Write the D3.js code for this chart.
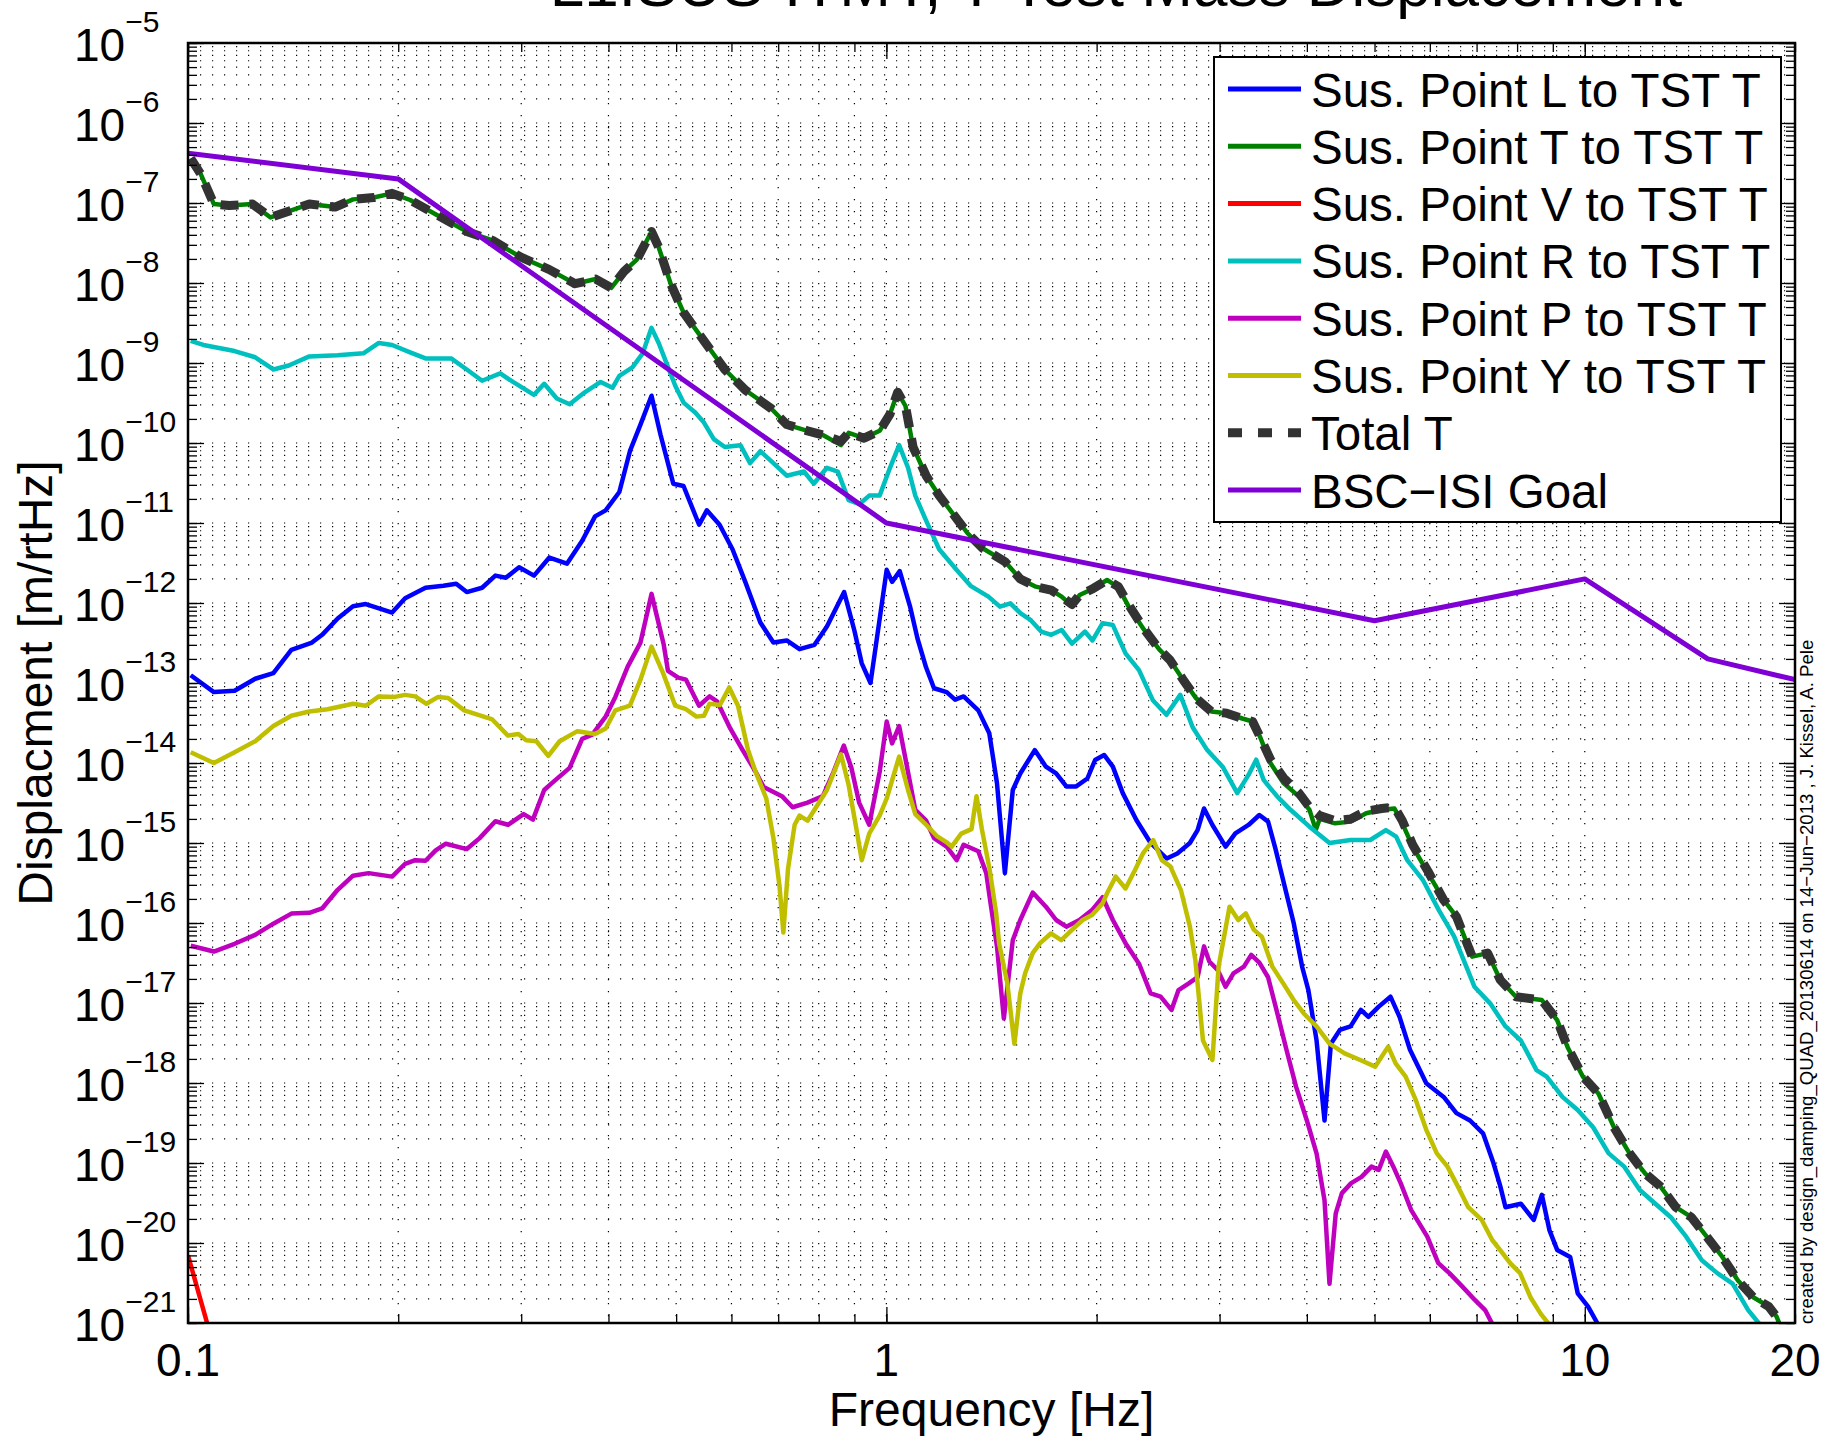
<!DOCTYPE html>
<html>
<head>
<meta charset="utf-8">
<script src="https://cdn.jsdelivr.net/npm/d3@7"></script>
<style>
body { margin: 0; background: #fff; }
text { font-family: "Liberation Sans", Arial, Helvetica, sans-serif; fill: #000; }
</style>
</head>
<body>
<svg id="chart" width="1837" height="1436"></svg>
<script>
// [frequency Hz, displacement m/rtHz]
var susL = [[0.1009,1.25e-13],[0.1089,7.7e-14],[0.1166,8e-14],[0.1248,1.13e-13],[0.1325,1.33e-13],[0.1406,2.6e-13],[0.1505,3.2e-13],[0.1556,4e-13],[0.1638,6.4e-13],[0.1723,9.1e-13],[0.1797,9.7e-13],[0.196,7.6e-13],[0.2046,1.15e-12],[0.2188,1.55e-12],[0.2321,1.64e-12],[0.2421,1.74e-12],[0.2507,1.37e-12],[0.2637,1.55e-12],[0.2755,2.2e-12],[0.2852,2.07e-12],[0.2979,2.8e-12],[0.3129,2.2e-12],[0.3292,3.7e-12],[0.3488,3.1e-12],[0.3668,6e-12],[0.3827,1.21e-11],[0.3963,1.44e-11],[0.4146,2.44e-11],[0.4293,7.9e-11],[0.4445,1.7e-10],[0.461,3.9e-10],[0.475,1.26e-10],[0.4953,3.1e-11],[0.5123,2.9e-11],[0.5393,9.5e-12],[0.5532,1.44e-11],[0.577,9.5e-12],[0.6021,4.7e-12],[0.628,1.84e-12],[0.66,5.7e-13],[0.689,3.2e-13],[0.72,3.4e-13],[0.751,2.65e-13],[0.789,3e-13],[0.822,5.1e-13],[0.87,1.37e-12],[0.9,4.5e-13],[0.922,1.76e-13],[0.949,1e-13],[1.001,2.6e-12],[1.019,1.84e-12],[1.045,2.5e-12],[1.081,9.1e-13],[1.108,3.6e-13],[1.14,1.56e-13],[1.17,8.6e-14],[1.22,7.7e-14],[1.254,6.2e-14],[1.29,6.8e-14],[1.354,4.55e-14],[1.404,2.35e-14],[1.44,5.6e-15],[1.478,4.2e-16],[1.517,4.6e-15],[1.555,7.4e-15],[1.631,1.45e-14],[1.692,9e-15],[1.75,7.4e-15],[1.81,5.1e-15],[1.87,5.1e-15],[1.94,6.4e-15],[1.99,1.09e-14],[2.05,1.26e-14],[2.11,9e-15],[2.18,4.2e-15],[2.28,1.94e-15],[2.39,1e-15],[2.52,6.4e-16],[2.61,7.4e-16],[2.72,1e-15],[2.79,1.45e-15],[2.85,2.7e-15],[2.93,1.68e-15],[3.06,9e-16],[3.16,1.32e-15],[3.3,1.68e-15],[3.42,2.24e-15],[3.52,1.85e-15],[3.61,8.2e-16],[3.71,3.1e-16],[3.83,1e-16],[3.94,2.8e-17],[4.02,1.45e-17],[4.13,3.4e-18],[4.24,3.4e-19],[4.33,3.1e-18],[4.46,4.6e-18],[4.62,5.1e-18],[4.78,8.2e-18],[4.9,6.7e-18],[5.07,9e-18],[5.27,1.2e-17],[5.43,6.7e-18],[5.62,2.6e-18],[5.93,9.9e-19],[6.28,6.7e-19],[6.55,4.2e-19],[6.85,3.4e-19],[7.15,2.35e-19],[7.4,1e-19],[7.57,5.1e-20],[7.7,2.8e-20],[8.1,3.1e-20],[8.45,1.94e-20],[8.68,4e-20],[8.9,1.45e-20],[9.13,8.2e-21],[9.53,6.7e-21],[9.77,2.35e-21],[10.11,1.6e-21],[10.42,1e-21],[10.7,6e-22]];

var susT = [[0.1009,3.6e-7],[0.1043,2.3e-7],[0.1089,9.7e-8],[0.1146,9.3e-8],[0.1237,9.7e-8],[0.1313,6.6e-8],[0.1406,8.1e-8],[0.1492,9.7e-8],[0.1624,8.9e-8],[0.1723,1.11e-7],[0.1845,1.17e-7],[0.196,1.32e-7],[0.208,1.09e-7],[0.2265,7.2e-8],[0.2507,4.4e-8],[0.273,3.4e-8],[0.2997,2.1e-8],[0.3292,1.47e-8],[0.3583,9.8e-9],[0.3836,1.12e-8],[0.4037,8.7e-9],[0.421,1.39e-8],[0.4395,1.98e-8],[0.461,4.4e-8],[0.472,2.8e-8],[0.491,9.8e-9],[0.5123,4.3e-9],[0.548,1.89e-9],[0.587,8.3e-10],[0.628,4.6e-10],[0.684,2.7e-10],[0.72,1.7e-10],[0.771,1.42e-10],[0.811,1.26e-10],[0.861,9.4e-11],[0.883,1.34e-10],[0.929,1.15e-10],[0.978,1.42e-10],[1.012,2.3e-10],[1.038,4.3e-10],[1.065,2.9e-10],[1.092,8.9e-11],[1.14,3.9e-11],[1.19,2.2e-11],[1.241,1.36e-11],[1.306,7.5e-12],[1.375,4.8e-12],[1.478,3.3e-12],[1.555,2.0e-12],[1.637,1.6e-12],[1.722,1.45e-12],[1.782,1.2e-12],[1.844,9.2e-13],[1.891,1.26e-12],[1.973,1.5e-12],[2.07,1.94e-12],[2.149,1.57e-12],[2.223,9e-13],[2.34,4.6e-13],[2.462,2.6e-13],[2.547,1.94e-13],[2.66,1.1e-13],[2.774,6.5e-14],[2.92,4.4e-14],[3.07,4.2e-14],[3.233,3.6e-14],[3.345,3.3e-14],[3.43,2.1e-14],[3.549,9.9e-15],[3.705,5.6e-15],[3.898,3.8e-15],[4.035,2.6e-15],[4.12,1.46e-15],[4.173,2.0e-15],[4.391,1.76e-15],[4.622,1.85e-15],[4.864,2.35e-15],[5.119,2.6e-15],[5.34,2.7e-15],[5.48,1.76e-15],[5.67,9e-16],[5.966,4.2e-16],[6.28,1.94e-16],[6.55,1.2e-16],[6.9,3.8e-17],[7.26,4.2e-17],[7.57,1.94e-17],[7.97,1.2e-17],[8.68,1.09e-17],[9.13,6.1e-18],[9.45,2.8e-18],[9.94,1.2e-18],[10.46,7.4e-19],[11.01,2.8e-19],[11.59,1.32e-19],[12.2,7.4e-20],[12.83,5.1e-20],[13.5,2.8e-20],[14.21,2.1e-20],[14.95,1.2e-20],[15.74,6.7e-21],[16.57,3.4e-21],[17.43,2.1e-21],[18.35,1.6e-21],[18.82,1.2e-21],[19.3,7e-22]];

var susV = [[0.1,7e-21],[0.1065,1e-21],[0.112,2e-22]];

var susR = [[0.1009,1.89e-9],[0.1052,1.68e-9],[0.1166,1.41e-9],[0.1248,1.18e-9],[0.1325,8.3e-10],[0.1394,9.3e-10],[0.1492,1.21e-9],[0.1638,1.25e-9],[0.1783,1.32e-9],[0.1876,1.78e-9],[0.196,1.68e-9],[0.208,1.36e-9],[0.2188,1.14e-9],[0.2381,1.14e-9],[0.2507,8.3e-10],[0.2637,6.0e-10],[0.2799,7.4e-10],[0.292,5.8e-10],[0.3129,4.0e-10],[0.3236,5.5e-10],[0.3374,3.6e-10],[0.3519,3.05e-10],[0.3699,4.3e-10],[0.3898,5.8e-10],[0.4053,4.9e-10],[0.4146,6.9e-10],[0.4328,8.8e-10],[0.4478,1.32e-9],[0.461,2.75e-9],[0.472,1.78e-9],[0.482,1.11e-9],[0.4985,5.2e-10],[0.5123,3.2e-10],[0.5325,2.4e-10],[0.548,1.8e-10],[0.5661,1.12e-10],[0.587,8.9e-11],[0.618,9.4e-11],[0.638,5.6e-11],[0.66,7.9e-11],[0.689,5.6e-11],[0.72,3.9e-11],[0.762,4.4e-11],[0.787,3.1e-11],[0.822,4.9e-11],[0.852,4.4e-11],[0.883,1.93e-11],[0.915,1.72e-11],[0.945,2.2e-11],[0.978,2.2e-11],[1.012,4.9e-11],[1.043,9.4e-11],[1.074,4.9e-11],[1.1,2.2e-11],[1.14,1.07e-11],[1.19,4.7e-12],[1.26,2.6e-12],[1.32,1.64e-12],[1.40,1.2e-12],[1.454,9e-13],[1.505,9.9e-13],[1.557,7.4e-13],[1.61,6.1e-13],[1.666,4.4e-13],[1.722,4e-13],[1.782,4.6e-13],[1.844,3.1e-13],[1.924,4.4e-13],[1.973,3.4e-13],[2.04,5.6e-13],[2.11,5.3e-13],[2.2,2.35e-13],[2.3,1.45e-13],[2.407,6.1e-14],[2.518,4e-14],[2.635,7.1e-14],[2.745,2.8e-14],[2.88,1.45e-14],[3.03,9e-15],[3.18,4.2e-15],[3.3,7.1e-15],[3.385,1.1e-14],[3.47,6.1e-15],[3.63,3.8e-15],[3.79,2.6e-15],[4.035,1.6e-15],[4.31,1e-15],[4.62,1.09e-15],[4.93,1.09e-15],[5.19,1.45e-15],[5.37,1.2e-15],[5.57,6.1e-16],[5.87,3.4e-16],[6.18,1.45e-16],[6.5,6.8e-17],[6.95,1.6e-17],[7.32,9.9e-18],[7.7,5.1e-18],[8.1,3.4e-18],[8.53,1.45e-18],[8.82,1.2e-18],[9.29,6.7e-19],[9.77,4.6e-19],[10.28,2.8e-19],[10.82,1.32e-19],[11.39,9e-20],[11.99,4.6e-20],[12.62,3.1e-20],[13.28,2.1e-20],[13.97,1.2e-20],[14.71,6.1e-21],[15.48,4.2e-21],[16.28,3.1e-21],[17.14,1.45e-21],[17.74,1e-21],[18.2,7e-22]];

var susP = [[0.1009,5.2e-17],[0.1089,4.4e-17],[0.1166,5.5e-17],[0.1248,7.1e-17],[0.1325,9.8e-17],[0.1406,1.31e-16],[0.1492,1.34e-16],[0.1556,1.52e-16],[0.1638,2.6e-16],[0.1723,3.9e-16],[0.1814,4.2e-16],[0.196,3.8e-16],[0.2046,5.5e-16],[0.2115,6.1e-16],[0.2188,6e-16],[0.2263,8.1e-16],[0.234,9.8e-16],[0.2507,8.4e-16],[0.2616,1.15e-15],[0.2755,1.87e-15],[0.2872,1.69e-15],[0.3024,2.3e-15],[0.3118,1.96e-15],[0.3236,4.6e-15],[0.3319,5.6e-15],[0.3519,8.7e-15],[0.3668,2e-14],[0.3792,2.26e-14],[0.3963,3.8e-14],[0.4092,6.7e-14],[0.4262,1.6e-13],[0.4445,3.2e-13],[0.461,1.3e-12],[0.48,3e-13],[0.4867,1.42e-13],[0.5034,1.17e-13],[0.5165,1.1e-13],[0.5393,5.2e-14],[0.5582,6.8e-14],[0.5722,5.9e-14],[0.5976,2.7e-14],[0.6226,1.45e-14],[0.6502,7.7e-15],[0.6671,5e-15],[0.7087,3.85e-15],[0.734,2.8e-15],[0.771,3.2e-15],[0.811,3.85e-15],[0.84,7.7e-15],[0.869,1.65e-14],[0.891,8.7e-15],[0.914,3.2e-15],[0.945,1.69e-15],[0.978,7.7e-15],[1.001,3.3e-14],[1.019,1.76e-14],[1.043,2.9e-14],[1.074,7.7e-15],[1.1,2.6e-15],[1.14,1.9e-15],[1.17,1.15e-15],[1.22,9e-16],[1.261,6.1e-16],[1.29,9.5e-16],[1.354,7.9e-16],[1.39,4.2e-16],[1.41,1.76e-16],[1.44,5.1e-17],[1.473,6.4e-18],[1.517,6.1e-17],[1.555,1.09e-16],[1.62,2.4e-16],[1.692,1.6e-16],[1.75,1.09e-16],[1.81,9e-17],[1.89,1.09e-16],[1.97,1.45e-16],[2.04,2.1e-16],[2.11,1.09e-16],[2.2,5.6e-17],[2.3,3.1e-17],[2.39,1.32e-17],[2.47,1.2e-17],[2.56,8.2e-18],[2.62,1.45e-17],[2.71,1.76e-17],[2.79,2.1e-17],[2.85,5.1e-17],[2.9,3.3e-17],[2.98,2.6e-17],[3.06,1.6e-17],[3.14,2.35e-17],[3.25,2.85e-17],[3.33,4e-17],[3.42,3.2e-17],[3.52,2.1e-17],[3.64,6.7e-18],[3.74,2.6e-18],[3.86,9e-19],[4.0,3.4e-19],[4.13,1.32e-19],[4.24,3.4e-20],[4.31,3.1e-21],[4.4,2.35e-20],[4.49,4.2e-20],[4.63,5.6e-20],[4.79,6.7e-20],[4.95,9e-20],[5.07,8.2e-20],[5.19,1.39e-19],[5.32,9e-20],[5.45,5.6e-20],[5.64,2.6e-20],[5.95,1.2e-20],[6.17,5.6e-21],[6.4,4.2e-21],[6.68,2.85e-21],[6.96,1.94e-21],[7.2,1.45e-21],[7.36,1e-21],[7.5,7e-22]];

var susY = [[0.1009,1.36e-14],[0.1089,1e-14],[0.1166,1.36e-14],[0.1248,1.87e-14],[0.1325,2.9e-14],[0.1406,3.9e-14],[0.1492,4.4e-14],[0.1584,4.7e-14],[0.1723,5.5e-14],[0.1797,5.2e-14],[0.1876,6.8e-14],[0.1977,6.7e-14],[0.2046,7.1e-14],[0.2115,6.8e-14],[0.2195,5.5e-14],[0.2282,6.7e-14],[0.2358,6.5e-14],[0.2486,4.55e-14],[0.2727,3.5e-14],[0.2872,2.2e-14],[0.2972,2.3e-14],[0.3049,1.92e-14],[0.3154,1.87e-14],[0.328,1.23e-14],[0.3405,1.87e-14],[0.3611,2.5e-14],[0.3827,2.3e-14],[0.3963,2.7e-14],[0.4092,4.55e-14],[0.4293,5.2e-14],[0.4445,1.1e-13],[0.461,2.85e-13],[0.4789,1.33e-13],[0.4985,5.2e-14],[0.5165,4.7e-14],[0.5346,3.8e-14],[0.548,3.9e-14],[0.5582,5.5e-14],[0.5776,5.3e-14],[0.5956,8.8e-14],[0.6131,5.2e-14],[0.6337,1.45e-14],[0.65,7.7e-15],[0.673,3.6e-15],[0.689,1.15e-15],[0.703,2.9e-16],[0.712,7.6e-17],[0.723,4.75e-16],[0.739,1.69e-15],[0.751,2.2e-15],[0.771,1.9e-15],[0.789,2.6e-15],[0.822,4.6e-15],[0.861,1.28e-14],[0.883,5.3e-15],[0.906,1.49e-15],[0.922,6.1e-16],[0.945,1.31e-15],[0.978,2.2e-15],[1.001,3.6e-15],[1.043,1.2e-14],[1.074,4.6e-15],[1.1,2.3e-15],[1.14,1.69e-15],[1.18,1.23e-15],[1.22,1.02e-15],[1.24,9e-16],[1.28,1.31e-15],[1.324,1.49e-15],[1.346,3.85e-15],[1.37,1.49e-15],[1.405,4.75e-16],[1.436,1.34e-16],[1.45,5.6e-17],[1.49,1.76e-17],[1.525,3.1e-18],[1.555,1.32e-17],[1.58,2.35e-17],[1.62,4.2e-17],[1.66,5.6e-17],[1.72,7.4e-17],[1.78,6.1e-17],[1.844,8.2e-17],[1.91,1.09e-16],[1.97,1.26e-16],[2.04,1.76e-16],[2.07,2.35e-16],[2.13,3.8e-16],[2.2,2.7e-16],[2.27,4.6e-16],[2.33,7.4e-16],[2.41,1.09e-15],[2.48,6.1e-16],[2.55,5.1e-16],[2.64,2.6e-16],[2.72,9e-17],[2.77,3.4e-17],[2.84,3.4e-18],[2.93,1.94e-18],[2.99,2.85e-17],[3.1,1.6e-16],[3.19,1.09e-16],[3.27,1.32e-16],[3.36,8.2e-17],[3.45,6.7e-17],[3.57,2.85e-17],[3.7,1.76e-17],[3.83,1.09e-17],[3.96,7.4e-18],[4.13,5.1e-18],[4.31,3.1e-18],[4.53,2.35e-18],[4.77,1.94e-18],[5.01,1.6e-18],[5.23,2.85e-18],[5.36,1.76e-18],[5.54,1.2e-18],[5.73,6.1e-19],[5.93,2.6e-19],[6.14,1.32e-19],[6.36,9e-20],[6.58,5.1e-20],[6.81,2.8e-20],[7.12,1.94e-20],[7.37,1.09e-20],[7.63,7.4e-21],[7.82,5.6e-21],[8.08,4.2e-21],[8.36,2.1e-21],[8.65,1.3e-21],[8.86,1e-21],[9.0,7e-22]];

var totalT = [[0.1009,3.6e-7],[0.1043,2.3e-7],[0.1089,9.7e-8],[0.1146,9.3e-8],[0.1237,9.7e-8],[0.1313,6.6e-8],[0.1406,8.1e-8],[0.1492,9.7e-8],[0.1624,8.9e-8],[0.1723,1.11e-7],[0.1845,1.17e-7],[0.196,1.32e-7],[0.208,1.09e-7],[0.2265,7.2e-8],[0.2507,4.4e-8],[0.273,3.4e-8],[0.2997,2.1e-8],[0.3292,1.47e-8],[0.3583,9.8e-9],[0.3836,1.12e-8],[0.4037,8.7e-9],[0.421,1.39e-8],[0.4395,1.98e-8],[0.461,4.4e-8],[0.472,2.8e-8],[0.491,9.8e-9],[0.5123,4.3e-9],[0.548,1.89e-9],[0.587,8.3e-10],[0.628,4.6e-10],[0.684,2.7e-10],[0.72,1.7e-10],[0.771,1.42e-10],[0.811,1.26e-10],[0.861,1.05e-10],[0.883,1.34e-10],[0.929,1.15e-10],[0.978,1.42e-10],[1.012,2.3e-10],[1.038,4.3e-10],[1.065,2.9e-10],[1.092,8.9e-11],[1.14,3.9e-11],[1.19,2.2e-11],[1.241,1.36e-11],[1.306,7.5e-12],[1.375,4.8e-12],[1.478,3.3e-12],[1.555,2.0e-12],[1.637,1.6e-12],[1.722,1.45e-12],[1.782,1.2e-12],[1.844,9.6e-13],[1.891,1.26e-12],[1.973,1.5e-12],[2.07,1.94e-12],[2.149,1.6e-12],[2.223,9.5e-13],[2.34,4.7e-13],[2.462,2.6e-13],[2.547,1.94e-13],[2.66,1.1e-13],[2.774,6.5e-14],[2.92,4.4e-14],[3.07,4.2e-14],[3.233,3.6e-14],[3.345,3.3e-14],[3.43,2.1e-14],[3.549,1.1e-14],[3.705,6.5e-15],[3.898,4.2e-15],[4.035,2.8e-15],[4.173,2.2e-15],[4.391,1.9e-15],[4.622,2.0e-15],[4.864,2.5e-15],[5.119,2.7e-15],[5.34,2.8e-15],[5.48,1.9e-15],[5.67,9.5e-16],[5.966,4.4e-16],[6.28,1.94e-16],[6.55,1.2e-16],[6.9,3.8e-17],[7.26,4.2e-17],[7.57,1.94e-17],[7.97,1.2e-17],[8.68,1.09e-17],[9.13,6.1e-18],[9.45,2.8e-18],[9.94,1.2e-18],[10.46,7.4e-19],[11.01,2.8e-19],[11.59,1.32e-19],[12.2,7.4e-20],[12.83,5.1e-20],[13.5,2.8e-20],[14.21,2.1e-20],[14.95,1.2e-20],[15.74,6.7e-21],[16.57,3.4e-21],[17.43,2.1e-21],[18.35,1.6e-21],[18.82,1.2e-21],[19.3,7e-22]];

var isiGoal = [[0.1,4.2e-7],[0.2,2e-7],[1,1e-11],[5,6e-13],[10,2e-12],[15,2e-13],[20,1.1e-13]];

var legendLabels = ["Sus. Point L to TST T","Sus. Point T to TST T","Sus. Point V to TST T","Sus. Point R to TST T","Sus. Point P to TST T","Sus. Point Y to TST T","Total T","BSC\u2212ISI Goal"];
var xTickLabels = [[0.1,"0.1"],[1,"1"],[10,"10"],[20,"20"]];
var yTickExps = d3.range(-21, -4);

var W = 1837, H = 1436;
var pL = 188, pR = 1795, pT = 43, pB = 1323;

var x = d3.scaleLog().domain([0.1, 20]).range([pL, pR]);
var y = d3.scaleLog().domain([1e-21, 1e-5]).range([pB, pT]);

var svg = d3.select("#chart");
svg.append("rect").attr("width", W).attr("height", H).attr("fill", "#fff");

svg.append("defs").append("clipPath").attr("id", "clip")
  .append("rect").attr("x", pL).attr("y", pT).attr("width", pR - pL).attr("height", pB - pT);

// grid values (major + minor)
var xGrid = [], yGrid = [];
[-1, 0, 1].forEach(function(k) {
  for (var m = 1; m <= 9; m++) { var v = +(m + "e" + k); if (v <= 20) xGrid.push(v); }
});
for (var k = -21; k <= -6; k++) for (var m = 1; m <= 9; m++) yGrid.push(+(m + "e" + k));
yGrid.push(1e-5);
var xMajor = [0.1, 1, 10];
var yMajor = yTickExps.map(function(e) { return +("1e" + e); });

// dotted grid
var grid = svg.append("g").attr("stroke", "#000").attr("stroke-width", 1.2).attr("stroke-dasharray", "1.2,10.8");
grid.selectAll(".gx").data(xGrid.filter(function(d){ return d > 0.1 && d < 20; })).enter().append("line")
  .attr("x1", function(d){ return x(d); }).attr("x2", function(d){ return x(d); })
  .attr("y1", pT + 12).attr("y2", pB);
grid.selectAll(".gy").data(yGrid.filter(function(d){ return d > 1e-21 && d < 1e-5; })).enter().append("line")
  .attr("y1", function(d){ return y(d); }).attr("y2", function(d){ return y(d); })
  .attr("x1", pL + 12).attr("x2", pR);

// series
var line = d3.line().x(function(d){ return x(d[0]); }).y(function(d){ return y(d[1]); });
var series = [
  {data: susL, color: "#0000ff", w: 4.5},
  {data: susT, color: "#008000", w: 4.5},
  {data: susV, color: "#ff0000", w: 4.5},
  {data: susR, color: "#00bfbf", w: 4.5},
  {data: susP, color: "#bf00bf", w: 4.5},
  {data: susY, color: "#bfbf00", w: 4.5},
  {data: totalT, color: "#333333", w: 9, dash: "18,11"},
  {data: isiGoal, color: "#7f00d4", w: 5}
];
var plot = svg.append("g").attr("clip-path", "url(#clip)");
series.forEach(function(s) {
  plot.append("path").datum(s.data)
    .attr("fill", "none").attr("stroke", s.color).attr("stroke-width", s.w)
    .attr("stroke-linejoin", "round")
    .attr("stroke-dasharray", s.dash || null)
    .attr("d", line);
});

// ticks on all four sides, pointing in
function ticks(axis, tr, vals, size) {
  var g = svg.append("g").attr("transform", tr)
    .call(axis.tickValues(vals).tickSizeInner(-size).tickSizeOuter(0).tickFormat(""));
  g.select(".domain").remove();
  g.selectAll("line").attr("stroke", "#000").attr("stroke-width", 1.3);
}
ticks(d3.axisBottom(x), "translate(0," + pB + ")", xGrid, 9);
ticks(d3.axisBottom(x), "translate(0," + pB + ")", xMajor, 16);
ticks(d3.axisTop(x), "translate(0," + pT + ")", xGrid, 9);
ticks(d3.axisTop(x), "translate(0," + pT + ")", xMajor, 16);
ticks(d3.axisLeft(y), "translate(" + pL + ",0)", yGrid, 9);
ticks(d3.axisLeft(y), "translate(" + pL + ",0)", yMajor, 16);
ticks(d3.axisRight(y), "translate(" + pR + ",0)", yGrid, 9);
ticks(d3.axisRight(y), "translate(" + pR + ",0)", yMajor, 16);

svg.append("rect").attr("x", pL).attr("y", pT).attr("width", pR - pL).attr("height", pB - pT)
  .attr("fill", "none").attr("stroke", "#000").attr("stroke-width", 2.5);

// tick labels
yTickExps.forEach(function(e) {
  var t = svg.append("text").attr("x", 74).attr("y", y(+("1e" + e)) + 18);
  t.append("tspan").attr("font-size", 46).text("10");
  t.append("tspan").attr("font-size", 30).attr("dy", -29).text("\u2212" + (-e));
});
xTickLabels.forEach(function(d) {
  svg.append("text").attr("x", x(d[0])).attr("y", 1376).attr("text-anchor", "middle")
    .attr("font-size", 46).text(d[1]);
});

// axis titles
svg.append("text").attr("x", (pL + pR) / 2).attr("y", 1426).attr("text-anchor", "middle")
  .attr("font-size", 48).text("Frequency [Hz]");
svg.append("text").attr("transform", "translate(52," + ((pT + pB) / 2) + ") rotate(-90)")
  .attr("text-anchor", "middle").attr("font-size", 48).text("Displacment [m/rtHz]");
svg.append("text").attr("x", 1116).attr("y", 6).attr("text-anchor", "middle")
  .attr("font-size", 62).text("L1:SUS-ITMY, T Test Mass Displacement");
svg.append("text").attr("transform", "translate(1813,1324) rotate(-90)")
  .attr("font-size", 18.6).text("created by design_damping_QUAD_20130614 on 14\u2212Jun\u22122013 , J. Kissel, A. Pele");

// legend
var lg = svg.append("g");
lg.append("rect").attr("x", 1214).attr("y", 57).attr("width", 567).attr("height", 465)
  .attr("fill", "#fff").attr("stroke", "#000").attr("stroke-width", 2);
series.forEach(function(s, i) {
  var ly = 89 + i * 57.3;
  lg.append("line").attr("x1", 1228).attr("x2", 1301).attr("y1", ly).attr("y2", ly)
    .attr("stroke", s.color).attr("stroke-width", s.dash ? 9 : 5)
    .attr("stroke-dasharray", s.dash ? "14,16" : null);
  lg.append("text").attr("x", 1311).attr("y", ly + 17.5).attr("font-size", 47.5).text(legendLabels[i]);
});
</script>
</body>
</html>
